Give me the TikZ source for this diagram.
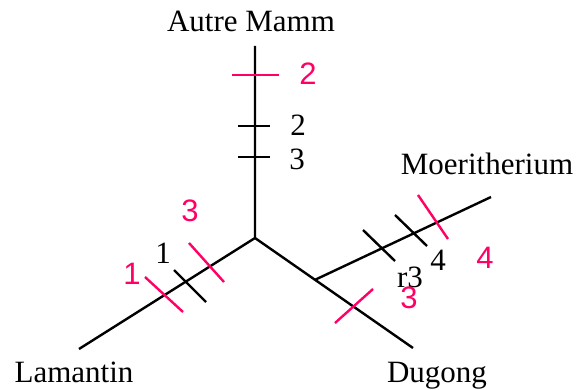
\documentclass[tikz,border=0pt]{standalone}
\usepackage{fontspec}
\setmainfont{Liberation Serif}
\newfontfamily\changefont{Liberation Sans}
\usetikzlibrary{positioning,calc}
\definecolor{tickpink}{RGB}{255,0,102}
\tikzset{
  taxon/.style={
    inner sep=0pt,
    anchor=base,
    font=\fontsize{31}{36}\selectfont
  },
  count/.style={
    inner sep=0pt,
    font=\fontsize{31}{36}\selectfont
  },
  change/.style={
    inner sep=0pt,
    text=tickpink,
    font=\changefont\fontsize{31}{36}\selectfont
  },
  branch/.style={
    line width=2.4pt
  },
  blackbar/.style={
    line width=2.4pt
  },
  pinkbar/.style={
    line width=2.4pt,
    draw=tickpink
  }
}

\begin{document}
\begin{tikzpicture}[x=1pt, y=-1pt]
  \useasboundingbox (0,0) rectangle (588,390);

  % tree
  \coordinate (root) at (255,238);
  \coordinate (top) at (255,46);
  \coordinate (lam) at (79,349);
  \coordinate (dug) at (413,348);
  \coordinate (fork) at ($(root)!0.38!(dug)$);
  \coordinate (moe) at (491,197);

  \draw[branch] (top) -- (root) -- (lam);
  \draw[branch] (root) -- (dug);
  \draw[branch] (fork) -- (moe);

  \node[taxon] (autre) at (251,32) {Autre Mamm};
  \node[taxon] (moer) at (487,175) {Moeritherium};
  \node[taxon] (lamantin) at (74,382) {Lamantin};
  \node[taxon] (dugong) at (437,382) {Dugong};

  % black bars
  \draw[blackbar] (238,126) -- (270,126);
  \draw[blackbar] (238,157) -- (270,157);
  \draw[blackbar] (174,270) -- (206,302);
  \draw[blackbar] (363,230) -- (395,261);
  \draw[blackbar] (395,215) -- (427,246);

  % pink bars
  \draw[pinkbar] (232,75) -- (279,75);
  \draw[pinkbar] (145,277) -- (183,312);
  \draw[pinkbar] (189,243) -- (224,282);
  \draw[pinkbar] (418,195) -- (448,239);
  \draw[pinkbar] (335,323) -- (373,289);

  % labels
  \node[count] (c2) at (298,125) {2};
  \node[count] (c3) at (297,159) {3};
  \node[count] (c1) at (163,253) {1};
  \node[count] (cr3) at (410,277) {r3};
  \node[count] (c4) at (438,260) {4};

  \node[change] (p2) at (308,74) {2};
  \node[change] (p1) at (132,274) {1};
  \node[change] (p3a) at (190,211) {3};
  \node[change] (p4) at (485,258) {4};
  \node[change] (p3b) at (409,298) {3};
\end{tikzpicture}
\end{document}
